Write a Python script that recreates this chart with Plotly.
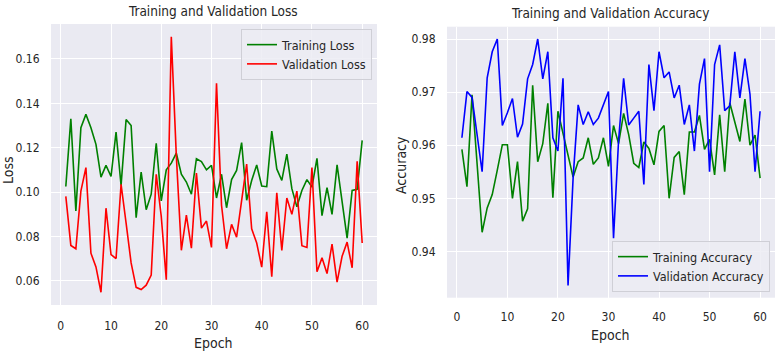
import plotly.graph_objects as go

epochs = list(range(1, 61))

train_loss = [0.1025, 0.133, 0.0914, 0.129, 0.135, 0.129, 0.1215, 0.1067, 0.112, 0.107,
              0.127, 0.103, 0.1327, 0.130, 0.0884, 0.109, 0.092, 0.099, 0.122, 0.096,
              0.110, 0.113, 0.1175, 0.108, 0.1045, 0.099, 0.115, 0.1137, 0.110, 0.112,
              0.0973, 0.108, 0.0929, 0.1056, 0.1097, 0.1223, 0.0963, 0.1052, 0.1122, 0.1027,
              0.1024, 0.1275, 0.1104, 0.1052, 0.1171, 0.1015, 0.0933, 0.1007, 0.1056, 0.1022,
              0.1152, 0.0893, 0.102, 0.0899, 0.1122, 0.0955, 0.0792, 0.1007, 0.1012, 0.1233]

val_loss = [0.098, 0.0759, 0.0744, 0.1004, 0.111, 0.0724, 0.0662, 0.0548, 0.0927, 0.0718,
            0.070, 0.1035, 0.086, 0.068, 0.057, 0.056, 0.058, 0.0625, 0.108, 0.089,
            0.0604, 0.170, 0.1163, 0.0737, 0.0896, 0.0747, 0.1085, 0.0837, 0.0869, 0.075,
            0.149, 0.094, 0.0744, 0.0854, 0.0796, 0.097, 0.1126, 0.0834, 0.077, 0.0661,
            0.0911, 0.0618, 0.0996, 0.0737, 0.0973, 0.0899, 0.1004, 0.0758, 0.075, 0.111,
            0.064, 0.0703, 0.0632, 0.0765, 0.0594, 0.071, 0.0774, 0.0658, 0.1138, 0.077]

train_acc = [0.9592, 0.9522, 0.9695, 0.956, 0.9436, 0.9482, 0.9507, 0.9553, 0.9601, 0.9601,
             0.950, 0.9569, 0.9457, 0.948, 0.9713, 0.9569, 0.9603, 0.9679, 0.9501, 0.9664,
             0.9622, 0.9584, 0.954, 0.9569, 0.9576, 0.9614, 0.9564, 0.9576, 0.9614, 0.956,
             0.9637, 0.9603, 0.966, 0.962, 0.9566, 0.9558, 0.9606, 0.9594, 0.9563, 0.9626,
             0.9637, 0.950, 0.9577, 0.9588, 0.9507, 0.9625, 0.9625, 0.9656, 0.9592, 0.9611,
             0.9544, 0.9657, 0.955, 0.968, 0.9645, 0.9607, 0.9687, 0.960, 0.9619, 0.9538]

val_acc = [0.9614, 0.9701, 0.969, 0.962, 0.955, 0.9727, 0.9776, 0.980, 0.9637, 0.9661,
           0.9688, 0.9615, 0.964, 0.9725, 0.9752, 0.980, 0.9725, 0.9776, 0.9614, 0.9589,
           0.9726, 0.9336, 0.9538, 0.9676, 0.9639, 0.9663, 0.9639, 0.9651, 0.9678, 0.9701,
           0.9425, 0.9609, 0.9726, 0.9638, 0.9651, 0.9664, 0.9526, 0.9752, 0.9665, 0.9776,
           0.9727, 0.9738, 0.9689, 0.9713, 0.9639, 0.9676, 0.9589, 0.9715, 0.9763, 0.955,
           0.9752, 0.9789, 0.9665, 0.9674, 0.9776, 0.9689, 0.9763, 0.9696, 0.955, 0.9664]

x_ticks = [0, 10, 20, 30, 40, 50, 60]
loss_ticks = [0.06, 0.08, 0.10, 0.12, 0.14, 0.16]
acc_ticks = [0.94, 0.95, 0.96, 0.97, 0.98]


def pad_range(vals, frac=0.05):
    lo, hi = min(vals), max(vals)
    d = (hi - lo) * frac
    return [lo - d, hi + d]


W, H = 777, 356
FONT = "DejaVu Sans Condensed, Liberation Sans Narrow, DejaVu Sans, sans-serif"
TXT = "#262626"
BG = "#EAEAF2"

fig = go.Figure()
fig.add_trace(go.Scatter(x=epochs, y=train_loss, mode="lines", name="Training Loss",
                         line=dict(color="green", width=1.6), xaxis="x", yaxis="y", legend="legend"))
fig.add_trace(go.Scatter(x=epochs, y=val_loss, mode="lines", name="Validation Loss",
                         line=dict(color="red", width=1.6), xaxis="x", yaxis="y", legend="legend"))
fig.add_trace(go.Scatter(x=epochs, y=train_acc, mode="lines", name="Training Accuracy",
                         line=dict(color="green", width=1.6), xaxis="x2", yaxis="y2", legend="legend2"))
fig.add_trace(go.Scatter(x=epochs, y=val_acc, mode="lines", name="Validation Accuracy",
                         line=dict(color="blue", width=1.6), xaxis="x2", yaxis="y2", legend="legend2"))

axis_common = dict(showgrid=True, gridcolor="white", gridwidth=1, zeroline=False, showline=False,
                   tickfont=dict(family=FONT, size=12, color=TXT), ticks="outside",
                   tickcolor="rgba(0,0,0,0)")

xr = pad_range(epochs)
fig.update_layout(
    width=W, height=H,
    margin=dict(l=0, r=0, t=0, b=0),
    paper_bgcolor="white",
    plot_bgcolor=BG,
    font=dict(family=FONT, color=TXT),
    xaxis=dict(domain=[51 / W, 377 / W], range=xr, tickvals=x_ticks, ticklen=10, anchor="y", **axis_common),
    yaxis=dict(domain=[(H - 305) / H, (H - 24) / H], range=pad_range(val_loss + train_loss),
               tickvals=loss_ticks, tickformat=".2f", ticklen=8, anchor="x", **axis_common),
    xaxis2=dict(domain=[447 / W, 775 / W], range=xr, tickvals=x_ticks, ticklen=8, anchor="y2", **axis_common),
    yaxis2=dict(domain=[(H - 297.7) / H, (H - 26.7) / H], range=pad_range(val_acc + train_acc),
                tickvals=acc_ticks, tickformat=".2f", ticklen=8, anchor="x2", **axis_common),
    legend=dict(x=372 / W, y=1 - 29 / H, xanchor="right", yanchor="top",
                bgcolor="rgba(236,236,243,0.85)", bordercolor="#CFCFD6", borderwidth=1,
                font=dict(family=FONT, size=12.5, color=TXT), itemwidth=30),
    legend2=dict(x=770 / W, y=1 - 292 / H, xanchor="right", yanchor="bottom",
                 bgcolor="rgba(236,236,243,0.85)", bordercolor="#CFCFD6", borderwidth=1,
                 font=dict(family=FONT, size=12.5, color=TXT), itemwidth=30),
    showlegend=True,
)

ann = [
    dict(text="Training and Validation Loss", x=212.5 / W, y=1 - 11 / H, size=13.5, angle=0),
    dict(text="Training and Validation Accuracy", x=610 / W, y=1 - 13 / H, size=13.5, angle=0),
    dict(text="Loss", x=8 / W, y=1 - 170 / H, size=14, angle=-90),
    dict(text="Accuracy", x=401 / W, y=1 - 165 / H, size=14, angle=-90),
    dict(text="Epoch", x=213 / W, y=1 - 343 / H, size=14, angle=0),
    dict(text="Epoch", x=610 / W, y=1 - 335 / H, size=14, angle=0),
]
for a in ann:
    fig.add_annotation(text=a["text"], x=a["x"], y=a["y"], xref="paper", yref="paper",
                       xanchor="center", yanchor="middle", showarrow=False, textangle=a["angle"],
                       font=dict(family=FONT, size=a["size"], color=TXT))

fig.write_html("out.html", config={"displayModeBar": False},
               post_script="document.body.style.margin='0';document.body.style.overflow='hidden';")
